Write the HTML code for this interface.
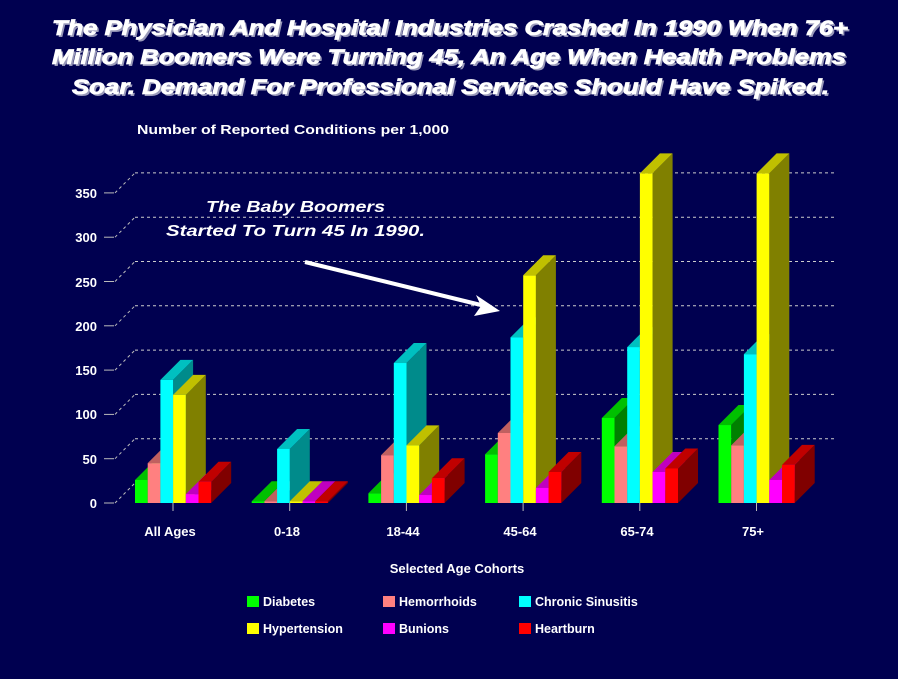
<!DOCTYPE html>
<html><head><meta charset="utf-8"><style>
html,body{margin:0;padding:0;background:#000050;}
svg{display:block;}
text{font-family:"Liberation Sans",Arial,sans-serif;fill:#fff;font-weight:bold;}
</style></head><body>
<svg id="s" width="898" height="679" viewBox="0 0 898 679" xmlns="http://www.w3.org/2000/svg">
<rect width="898" height="679" fill="#000050"/>
<g font-style="italic" font-size="21">
<text x="54" y="37" textLength="796" lengthAdjust="spacingAndGlyphs" fill="#000" opacity="0.6">The Physician And Hospital Industries Crashed In 1990 When 76+</text>
<text x="52" y="35" textLength="796" lengthAdjust="spacingAndGlyphs" stroke="#fff" stroke-width="0.8">The Physician And Hospital Industries Crashed In 1990 When 76+</text>
<text x="54" y="66" textLength="794" lengthAdjust="spacingAndGlyphs" fill="#000" opacity="0.6">Million Boomers Were Turning 45, An Age When Health Problems</text>
<text x="52" y="64" textLength="794" lengthAdjust="spacingAndGlyphs" stroke="#fff" stroke-width="0.8">Million Boomers Were Turning 45, An Age When Health Problems</text>
<text x="74" y="96" textLength="757" lengthAdjust="spacingAndGlyphs" fill="#000" opacity="0.6">Soar.  Demand For Professional Services Should Have Spiked.</text>
<text x="72" y="94" textLength="757" lengthAdjust="spacingAndGlyphs" stroke="#fff" stroke-width="0.8">Soar.  Demand For Professional Services Should Have Spiked.</text>
</g>
<text x="137" y="134" font-size="12.5" textLength="312" lengthAdjust="spacingAndGlyphs">Number of Reported Conditions per 1,000</text>
<g id="grid"></g>
<g font-size="13" text-anchor="end">
<text x="97" y="508">0</text><text x="97" y="464">50</text><text x="97" y="419">100</text>
<text x="97" y="375">150</text><text x="97" y="331">200</text><text x="97" y="287">250</text>
<text x="97" y="242">300</text><text x="97" y="198">350</text>
</g>
<g id="bars"></g>
<g font-size="13" text-anchor="middle">
<text x="170" y="536">All Ages</text><text x="287" y="536">0-18</text><text x="403" y="536">18-44</text>
<text x="520" y="536">45-64</text><text x="637" y="536">65-74</text><text x="753" y="536">75+</text>
<text x="457" y="573">Selected Age Cohorts</text>
</g>
<g font-style="italic" font-size="16">
<text x="206" y="212" textLength="179" lengthAdjust="spacingAndGlyphs">The Baby Boomers</text>
<text x="166" y="236" textLength="259" lengthAdjust="spacingAndGlyphs">Started To Turn 45 In 1990.</text>
</g>
<line x1="305" y1="262" x2="485" y2="306" stroke="#fff" stroke-width="4"/>
<polygon points="500,311 476,295 481,306 474,316" fill="#fff"/>
<g font-size="12.5">
<rect x="247" y="596" width="12" height="11" fill="#00ff00"/><text x="263" y="606">Diabetes</text>
<rect x="383" y="596" width="12" height="11" fill="#ff8080"/><text x="399" y="606">Hemorrhoids</text>
<rect x="519" y="596" width="12" height="11" fill="#00ffff"/><text x="535" y="606">Chronic Sinusitis</text>
<rect x="247" y="623" width="12" height="11" fill="#ffff00"/><text x="263" y="633">Hypertension</text>
<rect x="383" y="623" width="12" height="11" fill="#ff00ff"/><text x="399" y="633">Bunions</text>
<rect x="519" y="623" width="12" height="11" fill="#ff0000"/><text x="535" y="633">Heartburn</text>
</g>
</svg>
<script>
var NS="http://www.w3.org/2000/svg";
function el(p,t,a){var e=document.createElementNS(NS,t);for(var k in a)e.setAttribute(k,a[k]);p.appendChild(e);return e;}
var g=document.getElementById("grid"),b=document.getElementById("bars");
var base=503,sc=0.886,D=20;
for(var v=0;v<=350;v+=50){var y=base-v*sc;
 el(g,"line",{x1:104,y1:y,x2:114,y2:y,stroke:"#bbb","stroke-width":1});
 el(g,"line",{x1:115,y1:y,x2:135,y2:y-D,stroke:"#bbb","stroke-width":1,"stroke-dasharray":"3,3"});
 if(v>0)el(g,"line",{x1:135,y1:y-D,x2:835,y2:y-D,stroke:"#ccc","stroke-width":1,"stroke-dasharray":"3,3"});}
var cols=[["#00ff00","#008000","#00c000"],["#ff8080","#b05050","#c06060"],["#00ffff","#008b8b","#00c0c0"],["#ffff00","#808000","#c0c000"],["#ff00ff","#a000a0","#c000c0"],["#ff0000","#800000","#c00000"]];
var data=[[26,45,139,122,10,24],[2,2,61,2,2,2],[11,54,158,65,9,28],[55,79,187,257,17,35],[96,64,176,372,35,39],[88,65,168,372,26,43]];
var w=12.7;
for(var gi=0;gi<6;gi++){var x0=135+gi*116.7;
 for(var i=0;i<6;i++){var x=x0+i*w,h=data[gi][i]*sc,t=base-h,c=cols[i];
  el(b,"polygon",{points:[x+w,base,x+w+D,base-D,x+w+D,t-D,x+w,t].join(" "),fill:c[1]});
  el(b,"polygon",{points:[x,t,x+D,t-D,x+w+D,t-D,x+w,t].join(" "),fill:c[2]});
  el(b,"rect",{x:x,y:t,width:w,height:h,fill:c[0]});}
 el(b,"line",{x1:x0+38,y1:base,x2:x0+38,y2:base+8,stroke:"#bbb"});}
</script>
</body></html>
